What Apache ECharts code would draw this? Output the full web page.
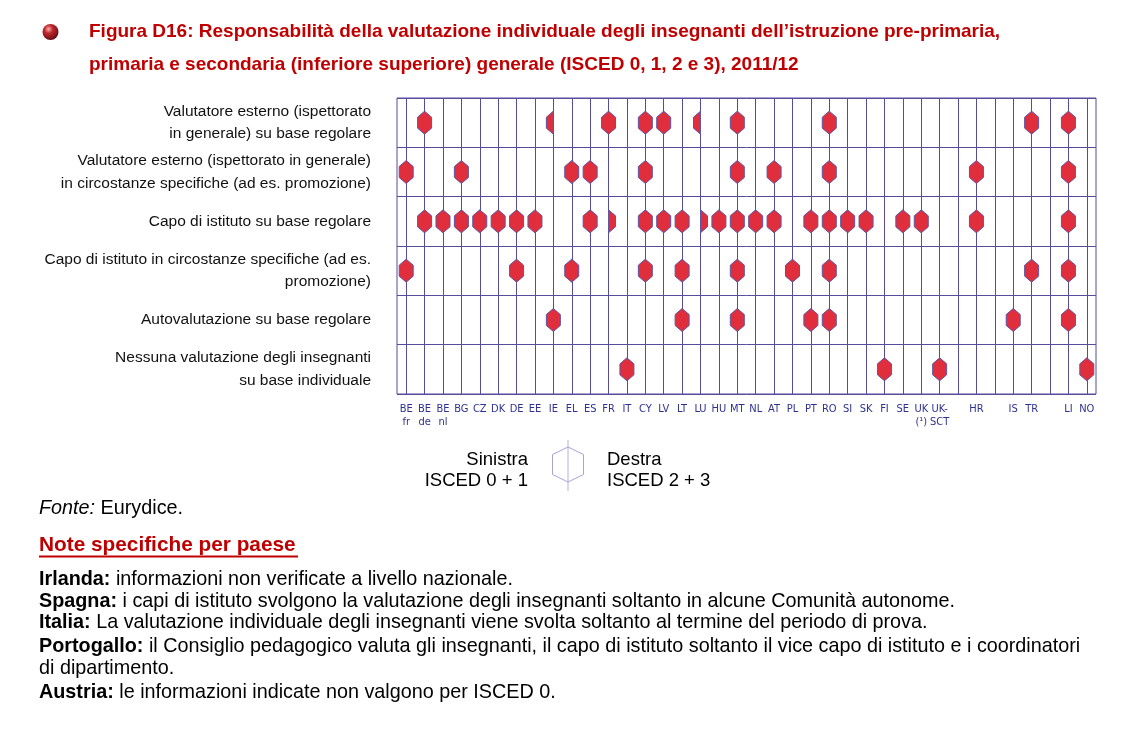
<!DOCTYPE html>
<html><head><meta charset="utf-8">
<script src="https://cdn.jsdelivr.net/npm/echarts@6/dist/echarts.min.js"></script>
<style>html,body{margin:0;padding:0;background:#fff}#c{width:1137px;height:746px}</style>
</head><body><div id="c"></div>
<script>
// ---- DATA ----
const countries = ['BE fr','BE de','BE nl','BG','CZ','DK','DE','EE','IE','EL','ES','FR','IT','CY','LV','LT','LU','HU','MT','NL','AT','PL','PT','RO','SI','SK','FI','SE','UK (1)','UK-SCT','gap1','HR','gap2','IS','TR','gap3','LI','NO'];
const countryLabels = ['BE\nfr','BE\nde','BE\nnl','BG','CZ','DK','DE','EE','IE','EL','ES','FR','IT','CY','LV','LT','LU','HU','MT','NL','AT','PL','PT','RO','SI','SK','FI','SE','UK\n(¹)','UK-\nSCT','','HR','','IS','TR','','LI','NO'];
const rowLabels = [
  'Valutatore esterno (ispettorato\nin generale) su base regolare',
  'Valutatore esterno (ispettorato in generale)\nin circostanze specifiche (ad es. promozione)',
  'Capo di istituto su base regolare',
  'Capo di istituto in circostanze specifiche (ad es.\npromozione)',
  'Autovalutazione su base regolare',
  'Nessuna valutazione degli insegnanti\nsu base individuale'
];
// F = ISCED 0-3 (whole hexagon), L = ISCED 0+1 only (left half), R = ISCED 2+3 only (right half)
const rowExternalRegular = [['BE de','F'],['IE','L'],['FR','F'],['CY','F'],['LV','F'],['LU','L'],['MT','F'],['RO','F'],['TR','F'],['LI','F']];
const rowExternalSpecific = [['BE fr','F'],['BG','F'],['EL','F'],['ES','F'],['CY','F'],['MT','F'],['AT','F'],['RO','F'],['HR','F'],['LI','F']];
const rowHeadRegular = [['BE de','F'],['BE nl','F'],['BG','F'],['CZ','F'],['DK','F'],['DE','F'],['EE','F'],['ES','F'],['FR','R'],['CY','F'],['LV','F'],['LT','F'],['LU','R'],['HU','F'],['MT','F'],['NL','F'],['AT','F'],['PT','F'],['RO','F'],['SI','F'],['SK','F'],['SE','F'],['UK (1)','F'],['HR','F'],['LI','F']];
const rowHeadSpecific = [['BE fr','F'],['DE','F'],['EL','F'],['CY','F'],['LT','F'],['MT','F'],['PL','F'],['RO','F'],['TR','F'],['LI','F']];
const rowSelfEvaluation = [['IE','F'],['LT','F'],['MT','F'],['PT','F'],['RO','F'],['IS','F'],['LI','F']];
const rowNoEvaluation = [['IT','F'],['FI','F'],['UK-SCT','F'],['NO','F']];
const rows = [rowExternalRegular, rowExternalSpecific, rowHeadRegular, rowHeadSpecific, rowSelfEvaluation, rowNoEvaluation];
const typeCodes = ['F','L','R'];

// ---- BUILD ----
const points = [];
rows.forEach((row, r) => row.forEach(([c, t]) => points.push([countries.indexOf(c), r, typeCodes.indexOf(t)])));

const GRID = '#554c9c';
const chart = echarts.init(document.getElementById('c'), null, {renderer: 'canvas'});
const fontA = '"Liberation Sans", Arial, sans-serif';

function hex(cx, cy, t) {
  const w = 7, h = 11.5, s = 5.5;
  const full = [[0,-h],[w,-s],[w,s],[0,h],[-w,s],[-w,-s]];
  const left = [[0,-h],[0,h],[-w,s],[-w,-s]];
  const right = [[0,-h],[w,-s],[w,s],[0,h]];
  const p = t === 0 ? full : (t === 1 ? left : right);
  return p.map(q => [cx + q[0], cy + q[1]]);
}

const footer = [
  ['Irlanda:', ' informazioni non verificate a livello nazionale.', 579.5],
  ['Spagna:', ' i capi di istituto svolgono la valutazione degli insegnanti soltanto in alcune Comunità autonome.', 601.5],
  ['Italia:', ' La valutazione individuale degli insegnanti viene svolta soltanto al termine del periodo di prova.', 623],
  ['Portogallo:', ' il Consiglio pedagogico valuta gli insegnanti, il capo di istituto soltanto il vice capo di istituto e i coordinatori', 646.5],
  ['', 'di dipartimento.', 669],
  ['Austria:', ' le informazioni indicate non valgono per ISCED 0.', 692.5]
];
const FS = 18.5;
const FF = 19.8;
const richFooter = {
  b: {fontWeight: 'bold', fontSize: FF, fontFamily: fontA, fill: '#000', lineHeight: 22, verticalAlign: 'middle'},
  n: {fontSize: FF, fontFamily: fontA, fill: '#000', lineHeight: 22, verticalAlign: 'middle'}
};
const mctx = document.createElement('canvas').getContext('2d');
mctx.font = 'italic ' + FF + 'px ' + fontA;
const fonteW = mctx.measureText('Fonte:').width;

const graphics = [
  {type: 'circle', shape: {cx: 50.5, cy: 32, r: 8},
   style: {fill: new echarts.graphic.RadialGradient(0.38, 0.32, 0.75, [
     {offset: 0, color: '#f6b0b0'}, {offset: 0.35, color: '#c0282e'}, {offset: 1, color: '#5a0a10'}])}},
  {type: 'text', x: 89, y: 32, style: {text: 'Figura D16: Responsabilità della valutazione individuale degli insegnanti dell’istruzione pre-primaria,',
    fill: '#c00000', font: 'bold 19px ' + fontA, verticalAlign: 'middle'}},
  {type: 'text', x: 89, y: 65, style: {text: 'primaria e secondaria (inferiore superiore) generale (ISCED 0, 1, 2 e 3), 2011/12',
    fill: '#c00000', font: 'bold 19px ' + fontA, verticalAlign: 'middle'}},
  // legend
  {type: 'line', shape: {x1: 568, y1: 440, x2: 568, y2: 491}, style: {stroke: '#b5b2da', lineWidth: 1}},
  {type: 'polygon', shape: {points: [[568,447],[583.5,454.5],[583.5,474.5],[568,482],[552.5,474.5],[552.5,454.5]]},
   style: {fill: 'none', stroke: '#a8a4d6', lineWidth: 1}},
  {type: 'text', x: 528, y: 460, style: {text: 'Sinistra', fill: '#000', font: FS + 'px ' + fontA, align: 'right', verticalAlign: 'middle'}},
  {type: 'text', x: 528, y: 481, style: {text: 'ISCED 0 + 1', fill: '#000', font: FS + 'px ' + fontA, align: 'right', verticalAlign: 'middle'}},
  {type: 'text', x: 607, y: 460, style: {text: 'Destra', fill: '#000', font: FS + 'px ' + fontA, align: 'left', verticalAlign: 'middle'}},
  {type: 'text', x: 607, y: 481, style: {text: 'ISCED 2 + 3', fill: '#000', font: FS + 'px ' + fontA, align: 'left', verticalAlign: 'middle'}},
  // footer
  {type: 'text', x: 39, y: 518, style: {text: 'Fonte:', fill: '#000', font: 'italic ' + FF + 'px ' + fontA, verticalAlign: 'bottom'}},
  {type: 'text', x: 39 + fonteW, y: 519, style: {text: ' Eurydice.', fill: '#000', font: FF + 'px ' + fontA, verticalAlign: 'bottom'}},
  {type: 'text', x: 39, y: 545, style: {text: 'Note specifiche per paese', fill: '#c00000', font: 'bold 20.8px ' + fontA, verticalAlign: 'middle'}},
  {type: 'line', shape: {x1: 39, y1: 556.5, x2: 298, y2: 556.5}, style: {stroke: '#c00000', lineWidth: 2}}
];
footer.forEach(([b, t, y]) => graphics.push({type: 'text', x: 39, y: y, style: {
  text: (b ? '{b|' + b + '}' : '') + '{n|' + t + '}', verticalAlign: 'middle', rich: richFooter}}));

chart.setOption({
  animation: false,
  backgroundColor: '#fff',
  grid: {left: 397, top: 98, width: 699, height: 296, show: true, borderColor: GRID, borderWidth: 1, backgroundColor: 'transparent'},
  xAxis: {
    type: 'category', data: countries, boundaryGap: true,
    axisLine: {show: false}, axisTick: {show: false},
    axisLabel: {interval: 0, margin: 9, formatter: (v, i) => countryLabels[i], fontSize: 11, lineHeight: 12.5,
      fontFamily: '"DejaVu Sans Condensed", "Liberation Sans Narrow", sans-serif', color: '#2e3192'},
    splitLine: {show: true, alignWithLabel: true, interval: 0, lineStyle: {color: GRID, width: 1}}
  },
  yAxis: {
    type: 'category', data: rowLabels.map((_, i) => 'r' + i), inverse: true,
    axisLine: {show: false}, axisTick: {show: false},
    axisLabel: {interval: 0, margin: 26, formatter: (v, i) => rowLabels[i], fontSize: 15.5, lineHeight: 22.5,
      fontFamily: fontA, color: '#111', align: 'right'},
    splitLine: {show: true, interval: 0, lineStyle: {color: GRID, width: 1}}
  },
  series: [{
    type: 'custom', coordinateSystem: 'cartesian2d',
    encode: {x: 0, y: 1},
    data: points,
    renderItem: (params, api) => {
      const c = api.coord([api.value(0), api.value(1)]);
      return {type: 'polygon', shape: {points: hex(c[0], c[1], api.value(2))},
        style: {fill: '#e12e3d', stroke: '#5b57a6', lineWidth: 1}};
    }
  }],
  graphic: graphics
});
</script></body></html>
